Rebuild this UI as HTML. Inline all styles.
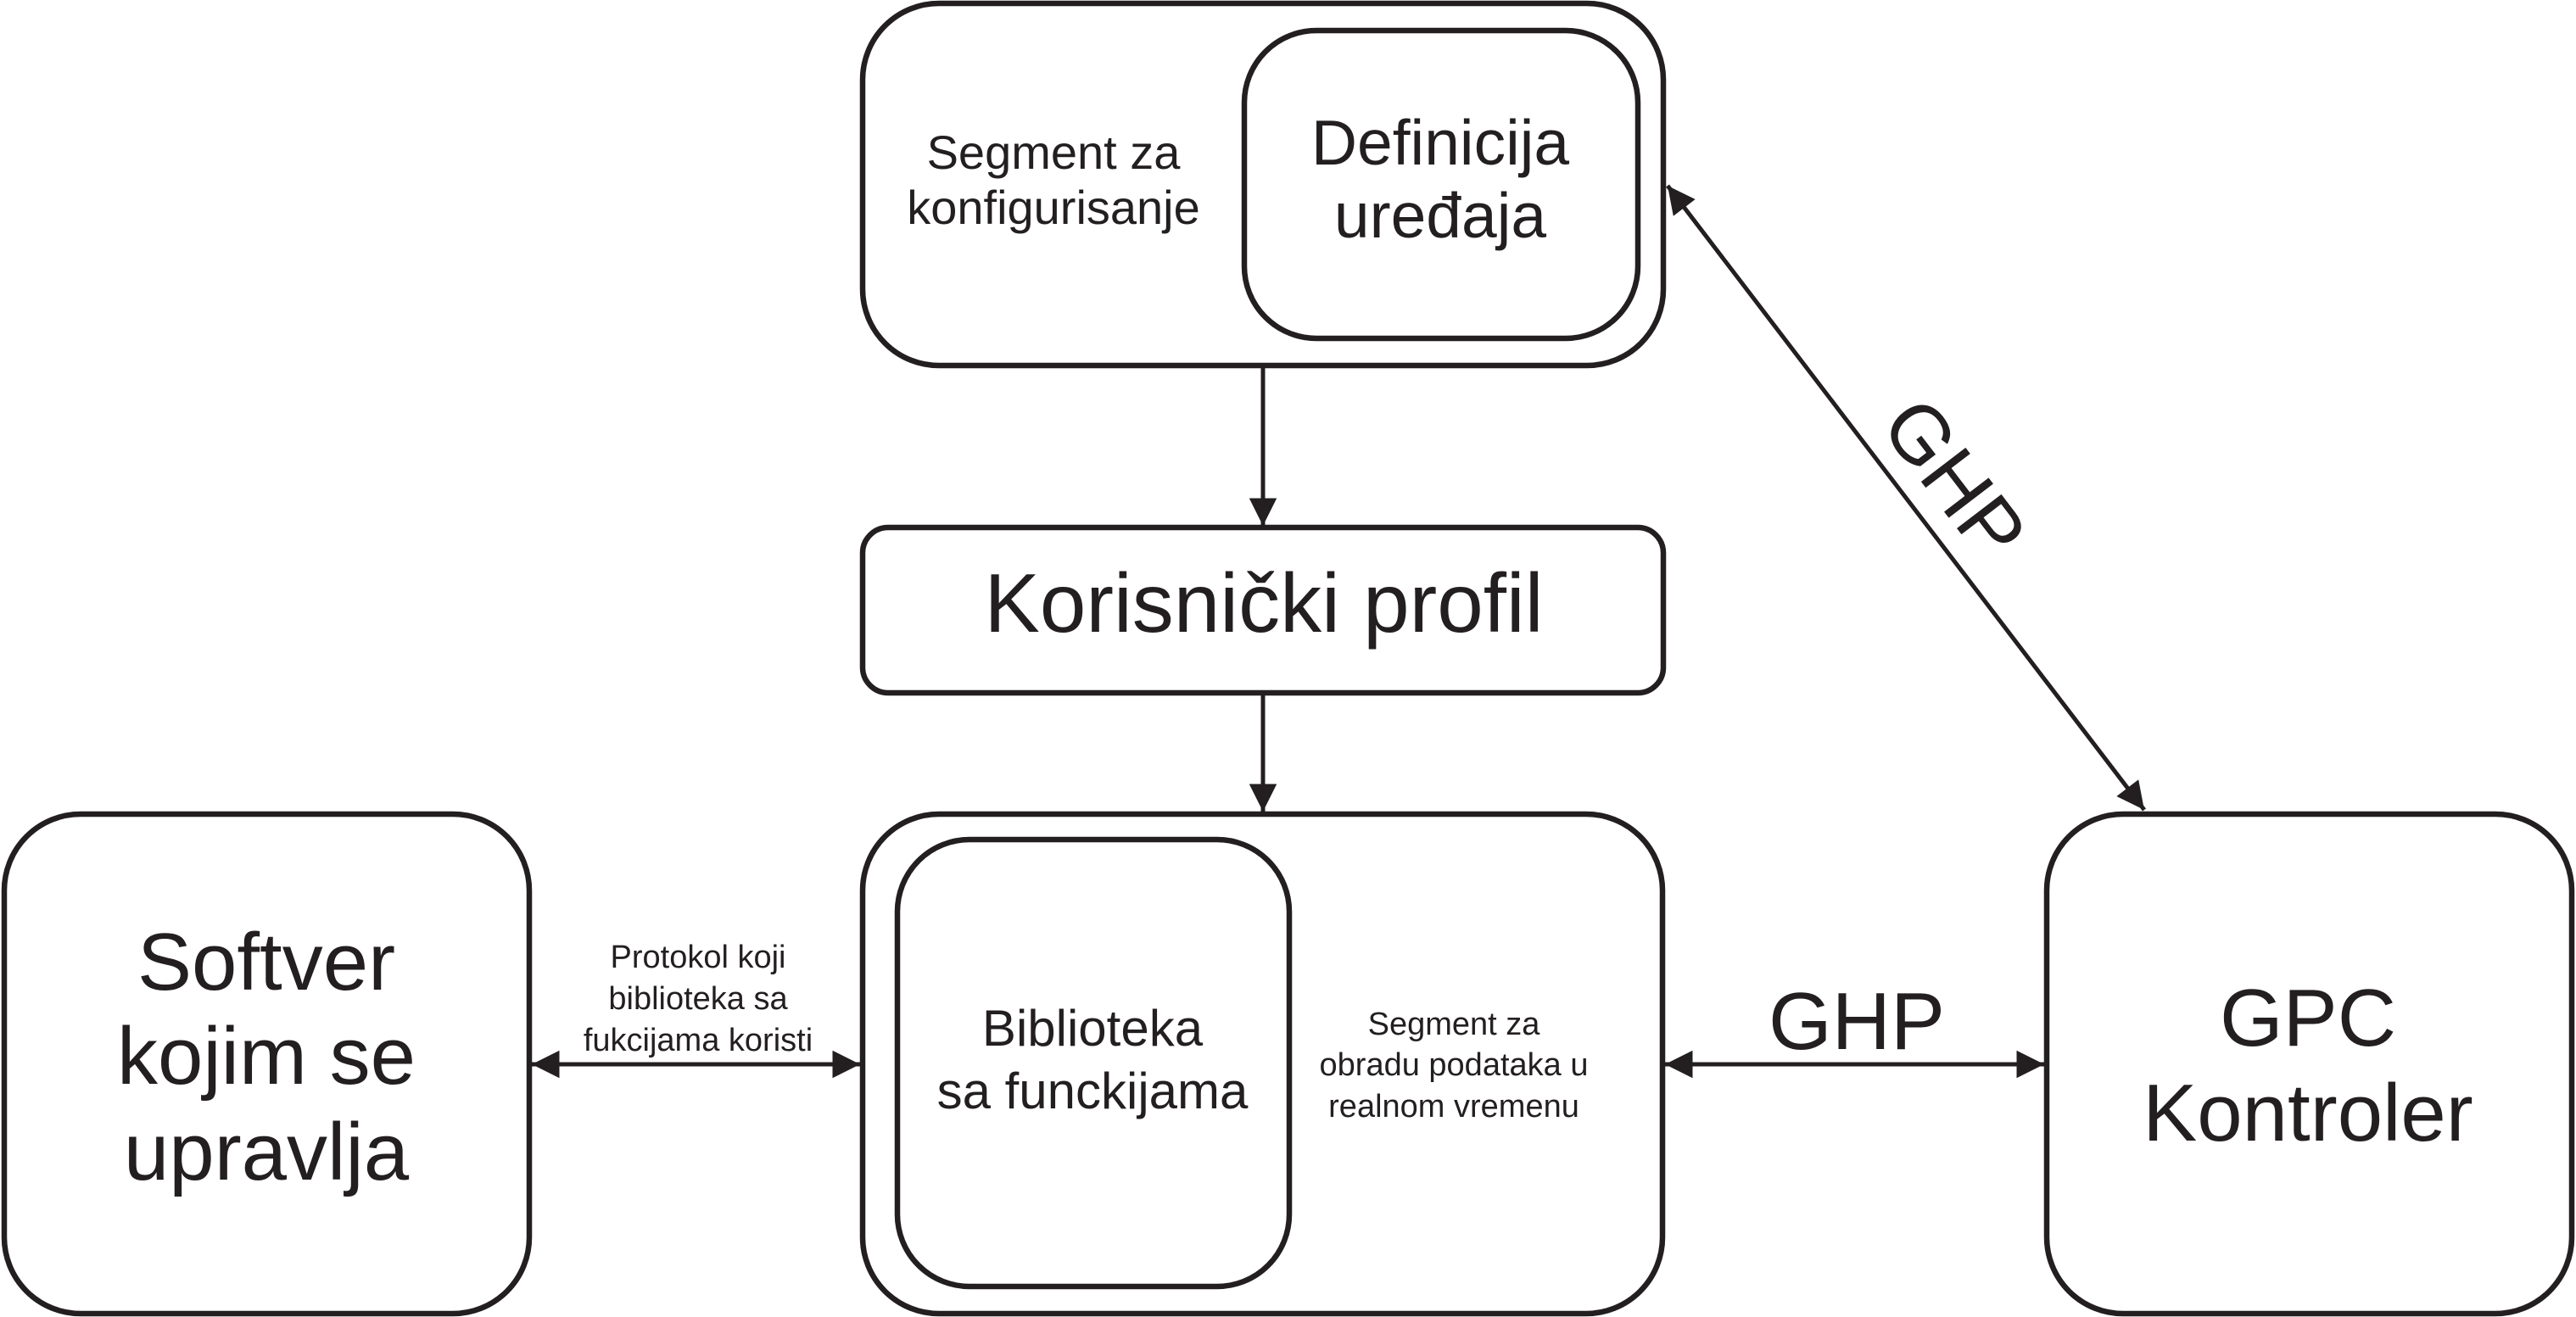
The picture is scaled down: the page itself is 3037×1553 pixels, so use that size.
<!DOCTYPE html>
<html><head><meta charset="utf-8"><style>
html,body{margin:0;padding:0;background:#fff;}
svg{display:block;}
text{font-family:"Liberation Sans",Arial,sans-serif;fill:#231f20;text-anchor:middle;}
</style></head><body>
<svg width="3037" height="1553" viewBox="0 0 3037 1553" xmlns="http://www.w3.org/2000/svg">
<defs>
<marker id="ah" viewBox="0 0 10 10" refX="10" refY="5" markerWidth="7.5" markerHeight="6.5" orient="auto-start-reverse" markerUnits="strokeWidth">
<path d="M0,0 L10,5 L0,10 z" fill="#231f20"/>
</marker>
</defs>
<g fill="none" stroke="#231f20" stroke-width="6.5">
<rect x="1017" y="4" width="944" height="427" rx="90" ry="90"/>
<rect x="1467" y="36" width="464" height="363" rx="85" ry="85"/>
<rect x="1017" y="622" width="944" height="195" rx="30" ry="30"/>
<rect x="5" y="960" width="619" height="589" rx="90" ry="90"/>
<rect x="1017" y="960" width="943" height="589" rx="90" ry="90"/>
<rect x="1058" y="990" width="462" height="527" rx="85" ry="85"/>
<rect x="2413" y="960" width="619" height="589" rx="90" ry="90"/>
<line x1="1489" y1="434" x2="1489" y2="620" stroke-width="5" marker-end="url(#ah)"/>
<line x1="1489" y1="820" x2="1489" y2="957" stroke-width="5" marker-end="url(#ah)"/>
<line x1="627" y1="1255" x2="1014" y2="1255" stroke-width="5" marker-start="url(#ah)" marker-end="url(#ah)"/>
<line x1="1963" y1="1255" x2="2410" y2="1255" stroke-width="5" marker-start="url(#ah)" marker-end="url(#ah)"/>
<line x1="1966" y1="219" x2="2528" y2="955" stroke-width="5" marker-start="url(#ah)" marker-end="url(#ah)"/>
</g>
<text font-size="56" x="1242" y="199">Segment za</text>
<text font-size="56" x="1242" y="264">konfigurisanje</text>
<text font-size="75" x="1698" y="194">Definicija</text>
<text font-size="75" x="1698" y="280">uređaja</text>
<text font-size="98" x="1490" y="745">Korisnički profil</text>
<text font-size="96" x="314" y="1167">Softver</text>
<text font-size="96" x="314" y="1278">kojim se</text>
<text font-size="96" x="314" y="1391">upravlja</text>
<text font-size="38" x="823" y="1141">Protokol koji</text>
<text font-size="38" x="823" y="1190">biblioteka sa</text>
<text font-size="38" x="823" y="1239">fukcijama koristi</text>
<text font-size="60" x="1288" y="1233">Biblioteka</text>
<text font-size="60" x="1288" y="1307">sa funckijama</text>
<text font-size="38" x="1714" y="1220">Segment za</text>
<text font-size="38" x="1714" y="1268">obradu podataka u</text>
<text font-size="38" x="1714" y="1317">realnom vremenu</text>
<text font-size="96" x="2189" y="1237">GHP</text>
<text font-size="96" x="2721" y="1233">GPC</text>
<text font-size="96" x="2721" y="1345">Kontroler</text>
<text font-size="96" transform="translate(2278,585) rotate(52.6)" y="0">GHP</text>
</svg>
</body></html>
